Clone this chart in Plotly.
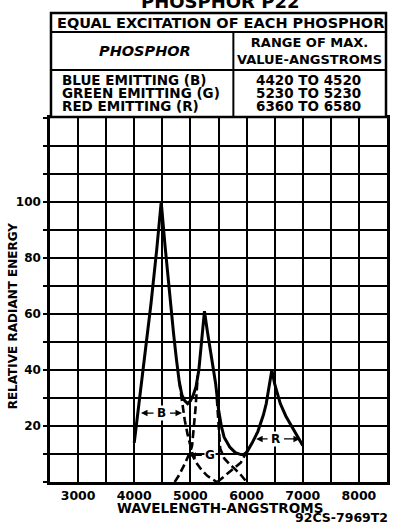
import plotly.graph_objects as go

# ---------------- data ----------------
combined_x = [4000, 4100, 4200, 4300, 4400, 4450, 4480, 4550, 4600, 4650, 4700, 4750, 4800, 4850, 4900,
              4950, 5000, 5050, 5100, 5150, 5200, 5250, 5300, 5350, 5400, 5450, 5500, 5550, 5600,
              5700, 5800, 5900, 5950, 6000, 6100, 6200, 6300, 6350, 6400, 6450, 6500, 6600, 6700,
              6800, 6900, 7000]
combined_y = [14, 30, 46, 64, 83, 94, 100, 84, 73, 62, 53, 44, 36, 31, 29,
              28, 29, 31, 34, 40, 50, 61, 54, 48, 41, 35, 26, 20, 16,
              12.5, 10.5, 9.8, 9.8, 10.5, 14, 18, 24, 28, 34, 40, 35, 28, 23.5,
              20, 16.5, 13]

blue_dash_x = [4800, 4850, 4900, 4950, 5000, 5050, 5100, 5200, 5300, 5400, 5470]
blue_dash_y = [36, 28, 22, 17, 13, 9, 7, 4.3, 2.2, 0.8, 0]

green_dash_left_x = [4720, 4800, 4900, 4950, 5000, 5030, 5060, 5090, 5110, 5130]
green_dash_left_y = [0, 2.5, 6.5, 8.5, 11, 13, 19, 26, 32, 38]

green_dash_right_x = [5470, 5500, 5530, 5600, 5700, 5800, 5900, 6000]
green_dash_right_y = [30, 20, 12, 8.5, 6.3, 4.5, 2.5, 0]

red_dash_left_x = [5480, 5600, 5700, 5800, 5900, 5980, 6050]
red_dash_left_y = [0, 2, 3.5, 5, 7, 10, 12.5]

# width markers (label, left end, right end, level, label position)
band_labels = ["B", "G", "R"]
band_left = [4120, 4980, 6170]
band_right = [4850, 5490, 6950]
band_level = [24.6, 9.5, 15.4]
band_label_x = [4490, 5350, 6520]

x_tick_vals = list(range(2500, 8501, 500))
x_tick_text = ["" if v % 1000 else str(v) for v in x_tick_vals]
y_tick_vals = list(range(0, 131, 10))
y_tick_text = [str(v) if v in (20, 40, 60, 80, 100) else "" for v in y_tick_vals]

table_title = "EQUAL EXCITATION OF EACH PHOSPHOR"
col_headers = ["PHOSPHOR", "RANGE OF MAX.<br>VALUE-ANGSTROMS"]
phosphors = ["BLUE EMITTING (B)", "GREEN EMITTING (G)", "RED EMITTING (R)"]
ranges = ["4420 TO 4520", "5230 TO 5230", "6360 TO 6580"]

# ---------------- layout helpers ----------------
L, R, T, B = 50, 3, 118, 41
W, H = 393, 523
PW, PH = W - L - R, H - T - B


def px_x(px):
    return (px - L) / PW


def px_y(py):
    return (H - B - py) / PH


FONT = "DejaVu Sans"
BLACK = "#000000"

fig = go.Figure()

solid = dict(color=BLACK, width=3)
dashed = dict(color=BLACK, width=2.6, dash="8px,4px")

fig.add_trace(go.Scatter(x=combined_x, y=combined_y, mode="lines", line=solid, showlegend=False))
fig.add_trace(go.Scatter(x=blue_dash_x, y=blue_dash_y, mode="lines", line=dashed, showlegend=False))
fig.add_trace(go.Scatter(x=green_dash_left_x, y=green_dash_left_y, mode="lines", line=dashed, showlegend=False))
fig.add_trace(go.Scatter(x=green_dash_right_x, y=green_dash_right_y, mode="lines", line=dashed, showlegend=False))
fig.add_trace(go.Scatter(x=red_dash_left_x, y=red_dash_left_y, mode="lines", line=dashed, showlegend=False))

annotations = []
for lab, xl, xr, lev, xc in zip(band_labels, band_left, band_right, band_level, band_label_x):
    annotations.append(dict(x=xc, y=lev, xref="x", yref="y", text=lab, showarrow=False,
                            font=dict(family=FONT, size=12, color=BLACK, weight="bold"),
                            bgcolor="white", borderpad=0))
    for end, tail in ((xl, xc - 120), (xr, xc + 120)):
        annotations.append(dict(x=end, y=lev, xref="x", yref="y", ax=tail, ay=lev,
                                axref="x", ayref="y", text="", showarrow=True,
                                arrowhead=2, arrowsize=1, arrowwidth=1.3, arrowcolor=BLACK,
                                standoff=0, startstandoff=0))

bold = lambda s: dict(family=FONT, size=s, color=BLACK, weight="bold")

# title (cropped at top of page)
annotations.append(dict(x=px_x(222), y=px_y(1), xref="paper", yref="paper", text="PHOSPHOR P22",
                        showarrow=False, font=bold(18), xanchor="center", yanchor="middle"))
# table text
annotations.append(dict(x=px_x(222), y=px_y(23), xref="paper", yref="paper", text=table_title,
                        showarrow=False, font=bold(14.5), xanchor="center", yanchor="middle"))
annotations.append(dict(x=px_x(146), y=px_y(51), xref="paper", yref="paper", text=col_headers[0],
                        showarrow=False, font=dict(family=FONT, size=14.5, color=BLACK, weight="bold", style="italic"),
                        xanchor="center", yanchor="middle"))
annotations.append(dict(x=px_x(312), y=px_y(51), xref="paper", yref="paper", text=col_headers[1],
                        showarrow=False, font=bold(13), xanchor="center", yanchor="middle"))
for i, (p, r) in enumerate(zip(phosphors, ranges)):
    yy = px_y(80 + 13 * i)
    annotations.append(dict(x=px_x(60), y=yy, xref="paper", yref="paper", text=p, showarrow=False,
                            font=bold(13.5), xanchor="left", yanchor="middle"))
    annotations.append(dict(x=px_x(311), y=yy, xref="paper", yref="paper", text=r, showarrow=False,
                            font=bold(13.5), xanchor="center", yanchor="middle"))

# axis titles
annotations.append(dict(x=px_x(222), y=px_y(508), xref="paper", yref="paper", text="WAVELENGTH-ANGSTROMS",
                        showarrow=False, font=bold(13.5), xanchor="center", yanchor="middle"))
annotations.append(dict(x=px_x(393), y=px_y(517), xref="paper", yref="paper", text="92CS-7969T2",
                        showarrow=False, font=bold(12.5), xanchor="right", yanchor="middle"))
annotations.append(dict(x=px_x(13), y=px_y(316), xref="paper", yref="paper", text="RELATIVE RADIANT ENERGY",
                        showarrow=False, font=bold(12), textangle=-90, xanchor="center", yanchor="middle"))

shapes = [
    dict(type="rect", xref="paper", yref="paper", x0=px_x(51), x1=px_x(389), y0=px_y(117), y1=px_y(13),
         fillcolor="white", line=dict(color=BLACK, width=2.5), layer="above"),
    dict(type="line", xref="paper", yref="paper", x0=px_x(51), x1=px_x(389), y0=px_y(32), y1=px_y(32),
         line=dict(color=BLACK, width=2)),
    dict(type="line", xref="paper", yref="paper", x0=px_x(51), x1=px_x(389), y0=px_y(70), y1=px_y(70),
         line=dict(color=BLACK, width=2)),
    dict(type="line", xref="paper", yref="paper", x0=px_x(235), x1=px_x(235), y0=px_y(32), y1=px_y(116),
         line=dict(color=BLACK, width=2)),
]

fig.update_layout(
    width=W, height=H,
    margin=dict(l=L, r=R, t=T, b=B, pad=0),
    paper_bgcolor="white", plot_bgcolor="white",
    annotations=annotations, shapes=shapes,
    font=dict(family=FONT, color=BLACK),
)
fig.update_xaxes(range=[2500, 8500], tickmode="array", tickvals=x_tick_vals, ticktext=x_tick_text,
                 showgrid=True, gridcolor=BLACK, gridwidth=2, showline=True, linecolor=BLACK, linewidth=2.5,
                 mirror=True, ticks="", zeroline=False, tickfont=bold(12.5), fixedrange=True)
fig.update_yaxes(range=[0, 130], tickmode="array", tickvals=y_tick_vals, ticktext=y_tick_text,
                 showgrid=True, gridcolor=BLACK, gridwidth=2, showline=True, linecolor=BLACK, linewidth=2.5,
                 mirror=True, ticks="outside", ticklen=4, tickwidth=1.5, tickcolor=BLACK, zeroline=False,
                 tickfont=bold(12), fixedrange=True)

fig.write_html("out.html", config={"displayModeBar": False},
               post_script="document.body.style.margin='0';document.body.style.overflow='hidden';")
